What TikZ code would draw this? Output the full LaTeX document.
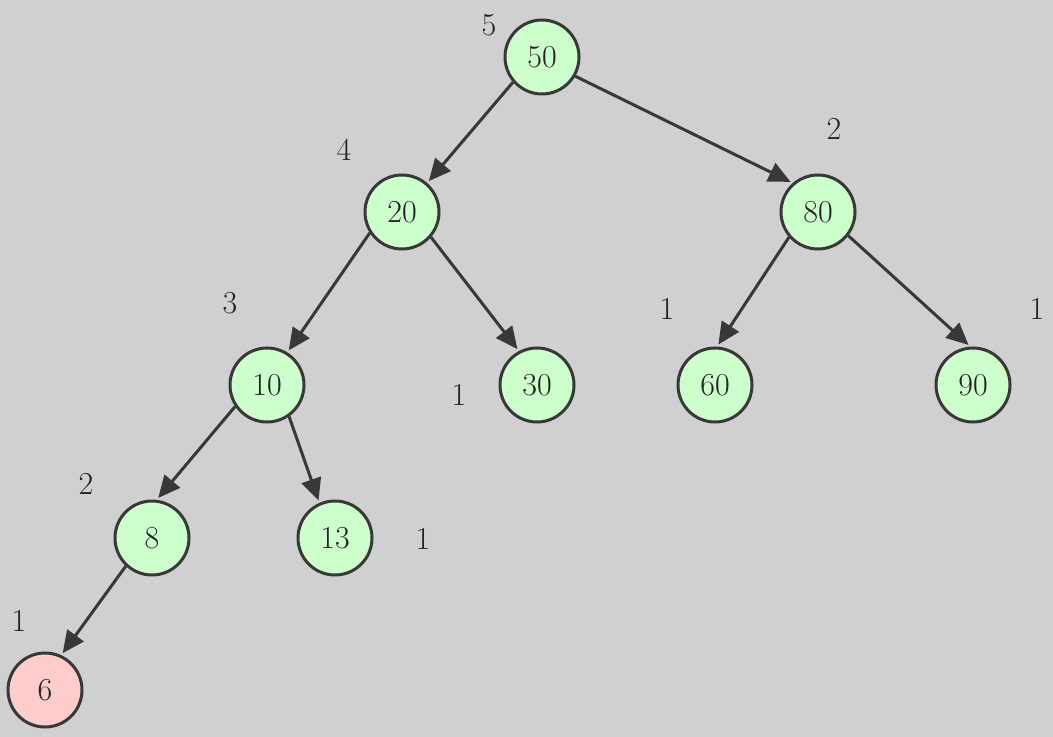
\documentclass[tikz,border=0pt]{standalone}
\usepackage{tikz}
\usetikzlibrary{arrows.meta}
\definecolor{bggray}{HTML}{D0D0D0}
\definecolor{edgegray}{HTML}{383838}
\definecolor{textgray}{HTML}{222222}
\definecolor{nodegreen}{HTML}{CCFFCC}
\definecolor{nodepink}{HTML}{FFCCCC}
\tikzset{
  avl/.style={circle, draw=edgegray, fill=nodegreen, text=textgray, line width=1.5pt, minimum size=37pt, inner sep=0pt, font=\fontsize{16}{19}\selectfont},
  avlnew/.style={avl, fill=nodepink},
  hgt/.style={inner sep=0pt, text=textgray, font=\fontsize{16}{19}\selectfont},
  tedge/.style={draw=edgegray, line width=1.5pt, shorten >=1.2pt, -{Triangle[length=11pt,width=10pt]}}
}
\begin{document}
\begin{tikzpicture}[x=0.5pt,y=-0.5pt]
\fill[bggray] (0,0) rectangle (1053,737);
\node[avl] (n50) at (542,57) {50};
\node[avl] (n20) at (402,212) {20};
\node[avl] (n80) at (818,212) {80};
\node[avl] (n10) at (267,385) {10};
\node[avl] (n30) at (537,385) {30};
\node[avl] (n60) at (715,385) {60};
\node[avl] (n90) at (973,385) {90};
\node[avl] (n8) at (152,538) {8};
\node[avl] (n13) at (335,538) {13};
\node[avlnew] (n6) at (45,690) {6};
% heights
\node[hgt] (h50) at (489,25) {5};
\node[hgt] (h20) at (344,150) {4};
\node[hgt] (h80) at (834,129) {2};
\node[hgt] (h10) at (230,303) {3};
\node[hgt] (h30) at (459,395) {1};
\node[hgt] (h60) at (667,309) {1};
\node[hgt] (h90) at (1037,309) {1};
\node[hgt] (h8) at (86,484) {2};
\node[hgt] (h13) at (423,539) {1};
\node[hgt] (h6) at (19,621) {1};
\draw[tedge] (n50.221) -- (n20.49);
\draw[tedge] (n50.330) -- (n80.131);
\draw[tedge] (n20.213) -- (n10.58);
\draw[tedge] (n20.319) -- (n30.118);
\draw[tedge] (n80.221) -- (n60.87);
\draw[tedge] (n80.322) -- (n90.94);
\draw[tedge] (n10.214) -- (n8.83);
\draw[tedge] (n10.305) -- (n13.114);
\draw[tedge] (n8.227) -- (n6.65);
\end{tikzpicture}
\end{document}
